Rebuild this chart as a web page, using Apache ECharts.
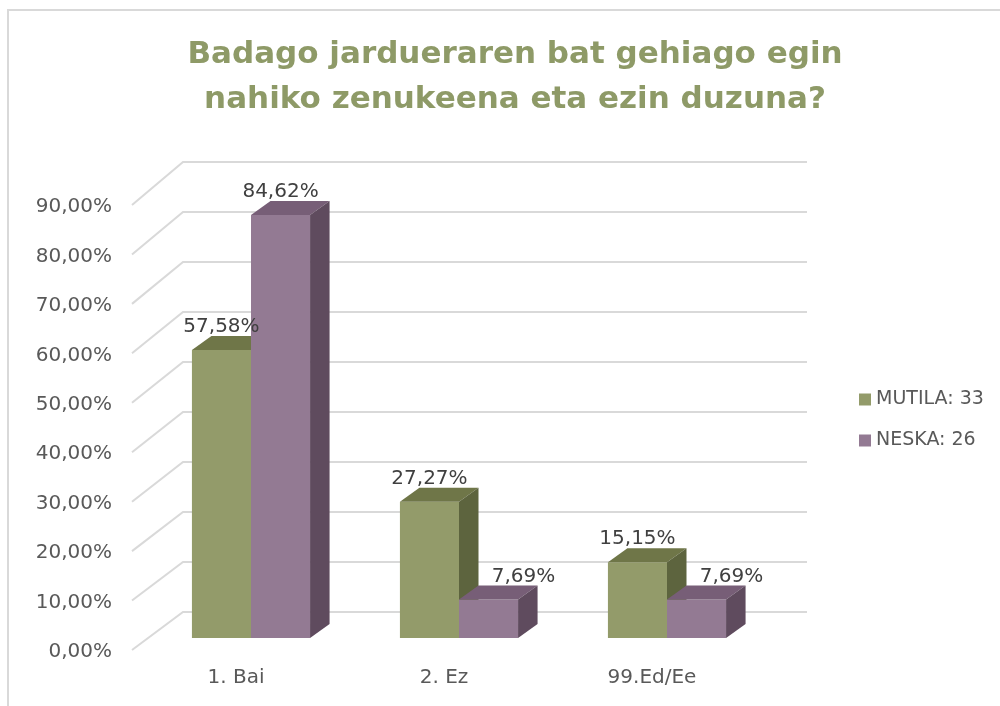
<!DOCTYPE html>
<html>
<head>
<meta charset="utf-8">
<script src="https://cdn.jsdelivr.net/npm/echarts@6/dist/echarts.min.js"></script>
<style>
  html, body { margin: 0; padding: 0; background: #fff; }
  #chart { width: 1000px; height: 706px; }
</style>
</head>
<body>
<div id="chart"></div>
<script>
const categories = ['1. Bai', '2. Ez', '99.Ed/Ee'];
const mutila = [57.58, 27.27, 15.15];
const neska = [84.62, 7.69, 7.69];
const seriesNames = ['MUTILA: 33', 'NESKA: 26'];
const yTicks = [0, 10, 20, 30, 40, 50, 60, 70, 80, 90];

const FONT = 'DejaVu Sans';
// 3d look: depth of the bars and of the back wall, relative to the bar front plane
const BAR_DX = 19.5, BAR_DY = -14;
const BACK_DX = 36, BACK_DY = -26;
const FRONT_DX = -15, FRONT_DY = 12;
const FRONT_SHRINK = 5 / 450; // front edge is a bit shorter (perspective)
const BAR_RATIO = 0.284;

const colors = [
  { front: '#939b6a', top: '#6f7648', side: '#5d643e' },
  { front: '#937a93', top: '#775e77', side: '#5f4b5e' }
];
const allValues = [mutila, neska];

const fmt = v => v.toFixed(2).replace('.', ',') + '%';

function wallRender(params, api) {
  const cs = params.coordSys;
  const v = api.value(1);
  const y = api.coord([0, v])[1];
  const yb = api.coord([0, 0])[1];
  const left = cs.x, right = cs.x + cs.width;
  const fy = y + FRONT_DY + (yb - y) * FRONT_SHRINK;
  return {
    type: 'group',
    children: [
      {
        type: 'polyline',
        shape: {
          points: [
            [left + FRONT_DX, fy],
            [left + BACK_DX, y + BACK_DY],
            [right + BACK_DX, y + BACK_DY]
          ]
        },
        style: { stroke: '#d9d9d9', lineWidth: 2, fill: null }
      },
      {
        type: 'text',
        style: {
          x: left + FRONT_DX - 20,
          y: fy + 2,
          text: fmt(v),
          align: 'right',
          verticalAlign: 'middle',
          fill: '#595959',
          font: '20px "' + FONT + '"'
        }
      }
    ]
  };
}

function barRender(s) {
  return function (params, api) {
    const idx = api.value(0);
    const val = api.value(1);
    const top = api.coord([idx, val]);
    const base = api.coord([idx, 0]);
    const bw = api.size([1, 0])[0] * BAR_RATIO;
    const x0 = top[0] - bw + s * bw;
    const yt = top[1], yb = base[1];
    const c = colors[s];
    // move the label aside when the bar on the left is taller
    let shift = 0;
    if (s > 0 && allValues[s - 1][idx] > val) shift = 35;
    return {
      type: 'group',
      children: [
        {
          type: 'rect',
          shape: { x: x0, y: yt, width: bw, height: yb - yt },
          style: { fill: c.front }
        },
        {
          type: 'polygon',
          shape: { points: [[x0, yt], [x0 + BAR_DX, yt + BAR_DY], [x0 + bw + BAR_DX, yt + BAR_DY], [x0 + bw, yt]] },
          style: { fill: c.top }
        },
        {
          type: 'polygon',
          shape: { points: [[x0 + bw, yt], [x0 + bw + BAR_DX, yt + BAR_DY], [x0 + bw + BAR_DX, yb + BAR_DY], [x0 + bw, yb]] },
          style: { fill: c.side }
        },
        {
          type: 'text',
          z2: 100,
          style: {
            x: x0 + bw / 2 + shift,
            y: yt + BAR_DY - 9,
            text: fmt(val),
            align: 'center',
            verticalAlign: 'middle',
            fill: '#404040',
            font: '20px "' + FONT + '"'
          }
        }
      ]
    };
  };
}

const chart = echarts.init(document.getElementById('chart'));
chart.setOption({
  backgroundColor: '#fff',
  animation: false,
  textStyle: { fontFamily: FONT },
  title: {
    text: 'Badago jardueraren bat gehiago egin\nnahiko zenukeena eta ezin duzuna?',
    left: 510,
    textAlign: 'center',
    top: 27,
    textStyle: {
      fontFamily: FONT,
      fontSize: 31,
      fontWeight: 'bold',
      color: '#8e9a67',
      lineHeight: 45
    }
  },
  legend: {
    orient: 'vertical',
    left: 859,
    top: 390,
    padding: 0,
    itemWidth: 12,
    itemHeight: 12,
    itemGap: 22,
    icon: 'rect',
    data: seriesNames,
    textStyle: { fontFamily: FONT, fontSize: 19, color: '#595959' }
  },
  graphic: [{
    type: 'rect',
    shape: { x: 8, y: 10, width: 1010, height: 720 },
    style: { fill: null, stroke: '#d9d9d9', lineWidth: 2 },
    silent: true
  }],
  grid: { left: 147, right: 229, top: 188, bottom: 68 },
  xAxis: {
    type: 'category',
    data: categories,
    axisLine: { show: false },
    axisTick: { show: false },
    axisLabel: {
      margin: 30,
      padding: [0, 30, 0, 0],
      fontSize: 20,
      color: '#595959',
      fontFamily: FONT
    }
  },
  yAxis: {
    type: 'value',
    min: 0,
    max: 90,
    interval: 10,
    axisLine: { show: false },
    axisTick: { show: false },
    splitLine: { show: false },
    axisLabel: { show: false }
  },
  series: [
    {
      type: 'custom',
      name: 'wall',
      z: 1,
      silent: true,
      renderItem: wallRender,
      data: yTicks.map(v => [0, v])
    },
    {
      type: 'custom',
      name: seriesNames[0],
      z: 2,
      itemStyle: { color: colors[0].front },
      renderItem: barRender(0),
      data: mutila.map((v, i) => [i, v])
    },
    {
      type: 'custom',
      name: seriesNames[1],
      z: 2,
      itemStyle: { color: colors[1].front },
      renderItem: barRender(1),
      data: neska.map((v, i) => [i, v])
    }
  ]
});
</script>
</body>
</html>
